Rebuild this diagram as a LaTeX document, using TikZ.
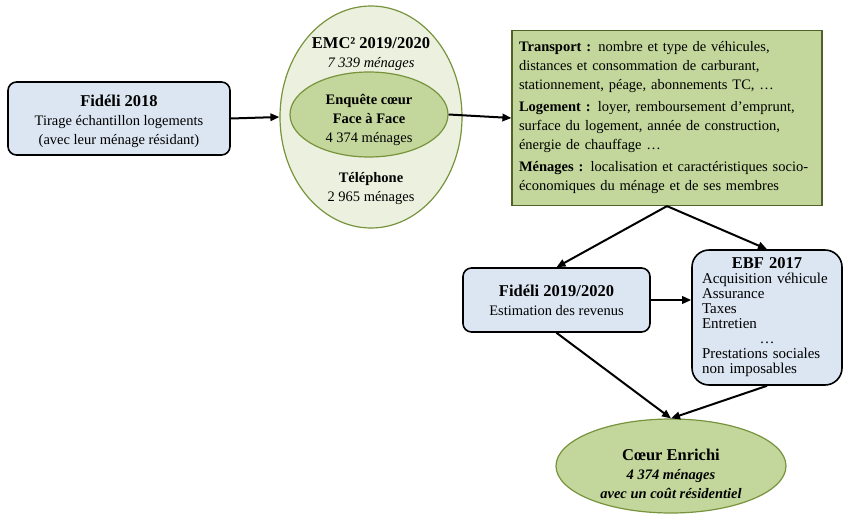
\documentclass[tikz,border=0pt]{standalone}
\usepackage{fontspec}
\setmainfont{Liberation Serif}
\usetikzlibrary{shapes.geometric,arrows.meta}
\definecolor{boxBlue}{HTML}{DCE6F2}
\definecolor{boxGreen}{HTML}{C3D69B}
\definecolor{paleGreen}{HTML}{EBF1DE}
\definecolor{edgeGreen}{HTML}{77933C}
\definecolor{edgeDark}{HTML}{4F6228}
\newcommand{\headText}[1]{{\fontsize{16.5}{20}\selectfont\bfseries #1}}

\begin{document}
\begin{tikzpicture}
[x=1pt,y=-1pt,%
  bodyFont/.style={font=\fontsize{14.5}{19}\selectfont},%
  blueBox/.style={draw=black,line width=1.6pt,fill=boxBlue,rounded corners=0.3cm,align=center,inner sep=0pt},%
  greenEllipse/.style={ellipse,draw=edgeGreen,line width=1.2pt,inner sep=0pt},%
  greenBox/.style={draw=edgeDark,line width=1.2pt,fill=boxGreen,inner sep=7pt},%
  plainText/.style={align=center,inner sep=0pt},%
  arrowLine/.style={-{Triangle[length=9pt,width=7.5pt]},line width=2pt}]
\useasboundingbox (0,0) rectangle (844,514);
%% sampling frame
\node (fideliA) at (119,118.5) [blueBox,minimum width=222pt,minimum height=73pt] {};
\node (fideliAText) at (119,121) [plainText,bodyFont]
{\headText{Fidéli 2018}\\ Tirage échantillon logements\\ (avec leur ménage résidant)};
%% survey ellipses
\node (emcOuter) at (371,117) [greenEllipse,fill=paleGreen,minimum width=182pt,minimum height=222pt] {};
\node (emcCore) at (369,114.5) [greenEllipse,fill=boxGreen,minimum width=158pt,minimum height=85pt] {};
\node (emcCoreText) at (369,119.5) [plainText,bodyFont]
{\textbf{Enquête cœur}\\ \textbf{Face à Face}\\ 4 374 ménages};
\node (emcTitle) at (371,54) [plainText,bodyFont] {\headText{EMC² 2019/2020}\\ \textit{7 339 ménages}};
\node (emcPhone) at (371,188.5) [plainText,bodyFont] {\textbf{Téléphone}\\ 2 965 ménages};
%% collected variables
\node (infoBox) at (667,118) [greenBox,minimum width=310pt,minimum height=175pt,text width=296pt,align=left,bodyFont]
{\textbf{Transport :} nombre et type de véhicules,\\ distances et consommation de carburant,\\ stationnement, péage, abonnements TC, …\\[3pt]
\textbf{Logement :} loyer, remboursement d’emprunt,\\ surface du logement, année de construction,\\ énergie de chauffage …\\[3pt]
\textbf{Ménages :} localisation et caractéristiques socio-\\ économiques du ménage et de ses membres};
%% imputation sources
\node (fideliB) at (556.5,300) [blueBox,minimum width=187pt,minimum height=64pt,bodyFont]
{\headText{Fidéli 2019/2020}\\ Estimation des revenus};
\node (ebfBox) at (767,317.5) [blueBox,rounded corners=0.6cm,minimum width=150pt,minimum height=135pt,text width=130pt,align=left,font=\fontsize{15}{15}\selectfont]
{\hfill\headText{EBF 2017}\hfill\null\\ Acquisition véhicule\\ Assurance\\ Taxes\\ Entretien\\ \hfill…\hfill\null\\ Prestations sociales\\ non imposables};
%% result
\node (coeurEnrichi) at (671,466) [greenEllipse,fill=boxGreen,minimum width=230pt,minimum height=94pt] {};
\node (coeurText) at (671,474) [plainText,bodyFont]
{\headText{Cœur Enrichi}\\ \textbf{\textit{4 374 ménages}}\\ \textbf{\textit{avec un coût résidentiel}}};
%% arrows
\draw[arrowLine] (fideliA.east) -- (emcOuter.west);
\draw[arrowLine] (emcCore.east) -- (infoBox.west);
\draw[arrowLine] (infoBox.south) -- (fideliB.north);
\draw[arrowLine] (infoBox.south) -- (ebfBox.north);
\draw[arrowLine] (fideliB.east) -- (fideliB.east -| ebfBox.west);
\draw[arrowLine] (fideliB.south) -- (coeurEnrichi.north);
\draw[arrowLine] (ebfBox.south) -- (coeurEnrichi.north);
\end{tikzpicture}
\end{document}
